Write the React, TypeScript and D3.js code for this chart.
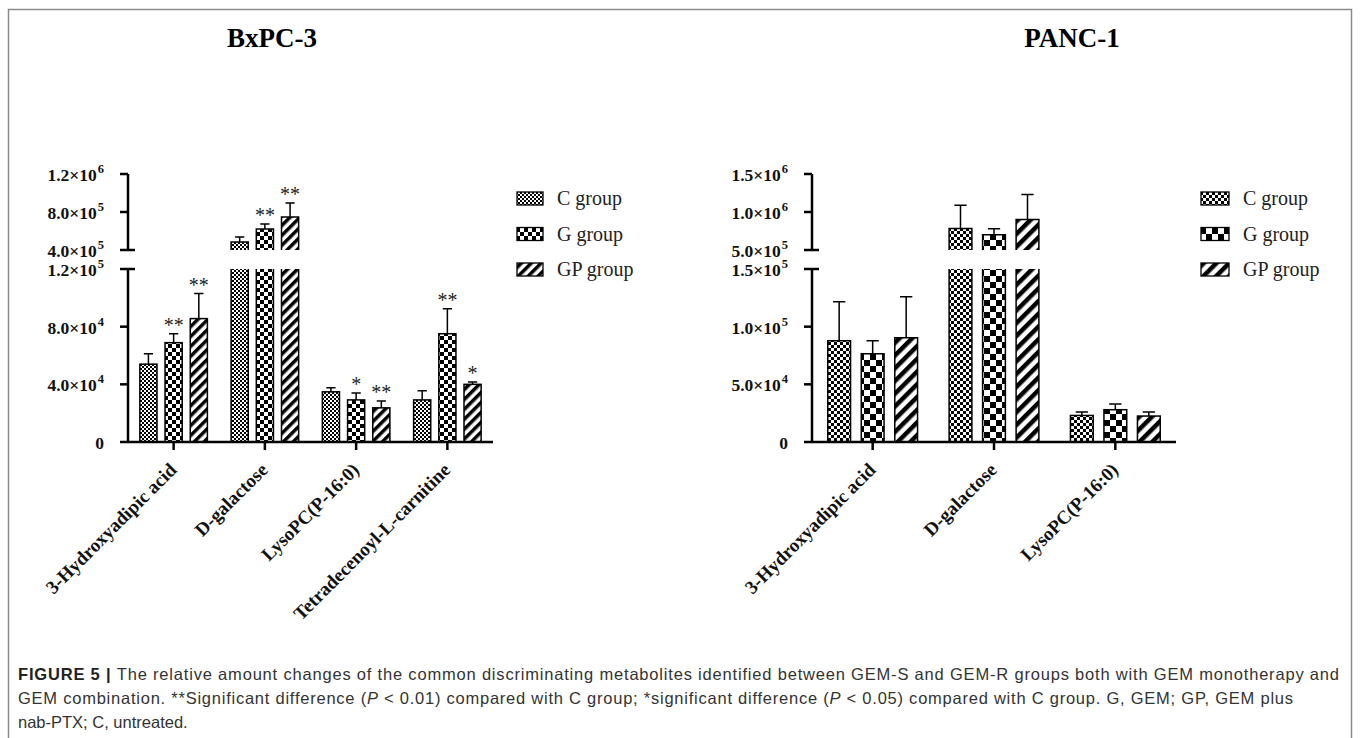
import React, { useEffect, useRef } from 'react';
import * as d3 from 'd3';

const GROUPS = ['C group', 'G group', 'GP group'];

// BxPC-3 panel
const BX_CATEGORIES = ['3-Hydroxyadipic acid', 'D-galactose', 'LysoPC(P-16:0)', 'Tetradecenoyl-L-carnitine'];
const BX_C = [54000, 484000, 34800, 29200];
const BX_G = [68900, 620000, 29200, 75100];
const BX_GP = [85600, 747000, 23700, 40000];
const BX_C_ERR = [7200, 53000, 2800, 6300];
const BX_G_ERR = [6200, 54000, 4800, 17400];
const BX_GP_ERR = [17400, 148000, 4800, 1700];
const BX_G_SIG = ['**', '**', '*', '**'];
const BX_GP_SIG = ['**', '**', '**', '*'];
const BX_LOW_TICKS = [0, 40000, 80000, 120000];
const BX_HIGH_TICKS = [400000, 800000, 1200000];

// PANC-1 panel
const PA_CATEGORIES = ['3-Hydroxyadipic acid', 'D-galactose', 'LysoPC(P-16:0)'];
const PA_C = [87800, 784000, 23000];
const PA_G = [76500, 700000, 28000];
const PA_GP = [90400, 900000, 22500];
const PA_C_ERR = [33900, 306000, 3000];
const PA_G_ERR = [11300, 80000, 5000];
const PA_GP_ERR = [35600, 330000, 3500];
const PA_LOW_TICKS = [0, 50000, 100000, 150000];
const PA_HIGH_TICKS = [500000, 1000000, 1500000];

const SERIF = '"Liberation Serif", "Times New Roman", serif';
const SANS = '"Liberation Sans", Arial, sans-serif';

const Y0 = 442;      // zero line
const LOW_TOP = 269; // top of lower axis segment
const HIGH_BOT = 250;
const HIGH_TOP = 174;

function splitSci(v: number) {
  if (v === 0) return { m: '0', e: '' };
  const e = Math.floor(Math.log10(v));
  const m = v / Math.pow(10, e);
  return { m: `${m.toFixed(1)}×10`, e: String(e) };
}

export default function App() {
  const ref = useRef<SVGSVGElement>(null);

  useEffect(() => {
    const svg = d3.select(ref.current);
    svg.selectAll('*').remove();
    const defs = svg.append('defs');

    const makePatterns = (id: string, c: number, g: number, s: number) => {
      const pc = defs.append('pattern').attr('id', `${id}-0`).attr('patternUnits', 'userSpaceOnUse')
        .attr('width', 2 * c).attr('height', 2 * c);
      pc.append('rect').attr('width', 2 * c).attr('height', 2 * c).attr('fill', '#fff');
      pc.append('rect').attr('width', c).attr('height', c).attr('fill', '#000');
      pc.append('rect').attr('x', c).attr('y', c).attr('width', c).attr('height', c).attr('fill', '#000');

      const pg = defs.append('pattern').attr('id', `${id}-1`).attr('patternUnits', 'userSpaceOnUse')
        .attr('width', 2 * g).attr('height', 2 * g);
      pg.append('rect').attr('width', 2 * g).attr('height', 2 * g).attr('fill', '#fff');
      pg.append('rect').attr('width', g).attr('height', g).attr('fill', '#000');
      pg.append('rect').attr('x', g).attr('y', g).attr('width', g).attr('height', g).attr('fill', '#000');

      const ps = defs.append('pattern').attr('id', `${id}-2`).attr('patternUnits', 'userSpaceOnUse')
        .attr('width', s).attr('height', s).attr('patternTransform', 'rotate(45)');
      ps.append('rect').attr('width', s).attr('height', s).attr('fill', '#fff');
      ps.append('rect').attr('width', s * 0.5).attr('height', s).attr('fill', '#000');
    };

    // frame
    svg.append('rect').attr('x', 8.5).attr('y', 9.5).attr('width', 1343).attr('height', 800)
      .attr('fill', 'none').attr('stroke', '#8a8a8a').attr('stroke-width', 1.5);

    const panels = [
      {
        id: 'bx', title: 'BxPC-3', titleX: 272, categories: BX_CATEGORIES,
        means: [BX_C, BX_G, BX_GP], errs: [BX_C_ERR, BX_G_ERR, BX_GP_ERR],
        sig: [BX_CATEGORIES.map(() => ''), BX_G_SIG, BX_GP_SIG],
        x0: 128, x1: 493, lowTicks: BX_LOW_TICKS, highTicks: BX_HIGH_TICKS,
        legendX: 517, swW: 26, pat: [2, 4, 7],
      },
      {
        id: 'pa', title: 'PANC-1', titleX: 1072, categories: PA_CATEGORIES,
        means: [PA_C, PA_G, PA_GP], errs: [PA_C_ERR, PA_G_ERR, PA_GP_ERR],
        sig: [PA_CATEGORIES.map(() => ''), PA_CATEGORIES.map(() => ''), PA_CATEGORIES.map(() => '')],
        x0: 812, x1: 1176, lowTicks: PA_LOW_TICKS, highTicks: PA_HIGH_TICKS,
        legendX: 1201, swW: 28, pat: [3, 6, 9],
      },
    ];

    panels.forEach(p => {
      makePatterns(p.id, p.pat[0], p.pat[1], p.pat[2]);
      const g = svg.append('g');
      const lowMax = p.lowTicks[p.lowTicks.length - 1];
      const highMin = p.highTicks[0];
      const highMax = p.highTicks[p.highTicks.length - 1];

      const yLow = d3.scaleLinear().domain([0, lowMax]).range([Y0, LOW_TOP]);
      const yHigh = d3.scaleLinear().domain([highMin, highMax]).range([HIGH_BOT, HIGH_TOP]);
      const x = d3.scaleBand().domain(p.categories).range([p.x0, p.x1]).padding(0);
      const bw = x.bandwidth();
      const xi = d3.scaleBand().domain(GROUPS).range([bw * 0.13, bw * 0.87]).paddingInner(0.32);
      const w = xi.bandwidth();

      // title
      g.append('text').attr('x', p.titleX).attr('y', 47).attr('text-anchor', 'middle')
        .attr('font-family', SERIF).attr('font-weight', 'bold').attr('font-size', 27).text(p.title);

      // bars
      GROUPS.forEach((grp, j) => {
        p.categories.forEach((cat, i) => {
          const v = p.means[j][i];
          const e = p.errs[j][i];
          const bx = (x(cat) as number) + (xi(grp) as number);
          const fill = `url(#${p.id}-${j})`;
          let barTop: number;
          if (v <= lowMax) {
            barTop = yLow(v);
            g.append('rect').attr('x', bx).attr('y', barTop).attr('width', w).attr('height', Y0 - barTop)
              .attr('fill', fill).attr('stroke', '#000').attr('stroke-width', 1.5);
          } else {
            barTop = yHigh(v);
            g.append('rect').attr('x', bx).attr('y', LOW_TOP).attr('width', w).attr('height', Y0 - LOW_TOP)
              .attr('fill', fill);
            g.append('path').attr('d', `M${bx},${LOW_TOP}V${Y0}H${bx + w}V${LOW_TOP}`)
              .attr('fill', 'none').attr('stroke', '#000').attr('stroke-width', 1.5);
            g.append('rect').attr('x', bx).attr('y', barTop).attr('width', w).attr('height', HIGH_BOT - barTop)
              .attr('fill', fill);
            g.append('path').attr('d', `M${bx},${HIGH_BOT}V${barTop}H${bx + w}V${HIGH_BOT}`)
              .attr('fill', 'none').attr('stroke', '#000').attr('stroke-width', 1.5);
          }
          const top = v + e;
          const eTop = top <= lowMax ? yLow(top) : yHigh(top);
          const cx = bx + w / 2;
          const cap = w * 0.27;
          g.append('path').attr('d', `M${cx},${barTop}V${eTop}M${cx - cap},${eTop}H${cx + cap}`)
            .attr('fill', 'none').attr('stroke', '#000').attr('stroke-width', 1.5);
          const s = p.sig[j][i];
          if (s) {
            g.append('text').attr('x', cx).attr('y', eTop - 2).attr('text-anchor', 'middle')
              .attr('font-family', SERIF).attr('font-size', 20).attr('fill', '#222').text(s);
          }
        });
      });

      // axes
      const ax = p.x0;
      const axis = g.append('g').attr('stroke', '#000').attr('stroke-width', 2.5).attr('fill', 'none');
      axis.append('path').attr('d', `M${ax},${Y0}V${LOW_TOP}`);
      axis.append('path').attr('d', `M${ax},${HIGH_BOT}V${HIGH_TOP}`);
      axis.append('path').attr('d', `M${ax - 8},${Y0}H${p.x1}`);
      p.categories.forEach(cat => {
        const cx = (x(cat) as number) + bw / 2;
        axis.append('path').attr('d', `M${cx},${Y0}V${Y0 + 8}`);
      });

      const tickLabel = (val: number, y: number) => {
        const { m, e } = splitSci(val);
        const t = g.append('text').attr('x', ax - 24).attr('y', y + 7).attr('text-anchor', 'end')
          .attr('font-family', SERIF).attr('font-weight', 'bold').attr('font-size', 17.5).attr('fill', '#111');
        t.append('tspan').text(m);
        if (e) t.append('tspan').attr('font-size', 12.5).attr('dx', 1).attr('dy', -8).text(e);
      };

      p.lowTicks.forEach((val, k) => {
        const y = yLow(val);
        if (k === p.lowTicks.length - 1) axis.append('path').attr('d', `M${ax - 8},${y}H${ax + 7}`);
        else if (k > 0) axis.append('path').attr('d', `M${ax - 8},${y}H${ax}`);
        tickLabel(val, y);
      });
      p.highTicks.forEach((val, k) => {
        const y = yHigh(val);
        if (k === 0) axis.append('path').attr('d', `M${ax - 8},${y}H${ax + 7}`);
        else axis.append('path').attr('d', `M${ax - 8},${y}H${ax}`);
        tickLabel(val, y);
      });

      // category labels
      p.categories.forEach(cat => {
        const cx = (x(cat) as number) + bw / 2 + 4;
        g.append('text').attr('transform', `translate(${cx},${Y0 + 29}) rotate(-45)`)
          .attr('text-anchor', 'end').attr('font-family', SERIF).attr('font-weight', 'bold')
          .attr('font-size', 19).attr('fill', '#111').text(cat);
      });

      // legend
      GROUPS.forEach((grp, j) => {
        const base = 205 + j * 35.5;
        g.append('rect').attr('x', p.legendX).attr('y', base - 13).attr('width', p.swW).attr('height', 13)
          .attr('fill', `url(#${p.id}-${j})`).attr('stroke', '#000').attr('stroke-width', 1.3);
        g.append('text').attr('x', p.legendX + p.swW + 14).attr('y', base)
          .attr('font-family', SERIF).attr('font-size', 20).attr('fill', '#222').text(grp);
      });
    });

    // caption
    const cap = svg.append('g').attr('font-family', SANS).attr('font-size', 16.5).attr('fill', '#333');
    const l1 = cap.append('text').attr('x', 18).attr('y', 680).attr('textLength', 1321).attr('lengthAdjust', 'spacing');
    l1.append('tspan').attr('font-weight', 'bold').attr('fill', '#222').text('FIGURE 5 | ');
    l1.append('tspan').text('The relative amount changes of the common discriminating metabolites identified between GEM-S and GEM-R groups both with GEM monotherapy and');
    const l2 = cap.append('text').attr('x', 18).attr('y', 704).attr('textLength', 1275).attr('lengthAdjust', 'spacing');
    l2.append('tspan').text('GEM combination. **Significant difference (');
    l2.append('tspan').attr('font-style', 'italic').text('P');
    l2.append('tspan').text(' < 0.01) compared with C group; *significant difference (');
    l2.append('tspan').attr('font-style', 'italic').text('P');
    l2.append('tspan').text(' < 0.05) compared with C group. G, GEM; GP, GEM plus');
    cap.append('text').attr('x', 18).attr('y', 728).text('nab-PTX; C, untreated.');
  }, []);

  return (
    <svg ref={ref} width={1360} height={738}
      style={{ position: 'absolute', left: 0, top: 0, background: '#fff' }} />
  );
}
